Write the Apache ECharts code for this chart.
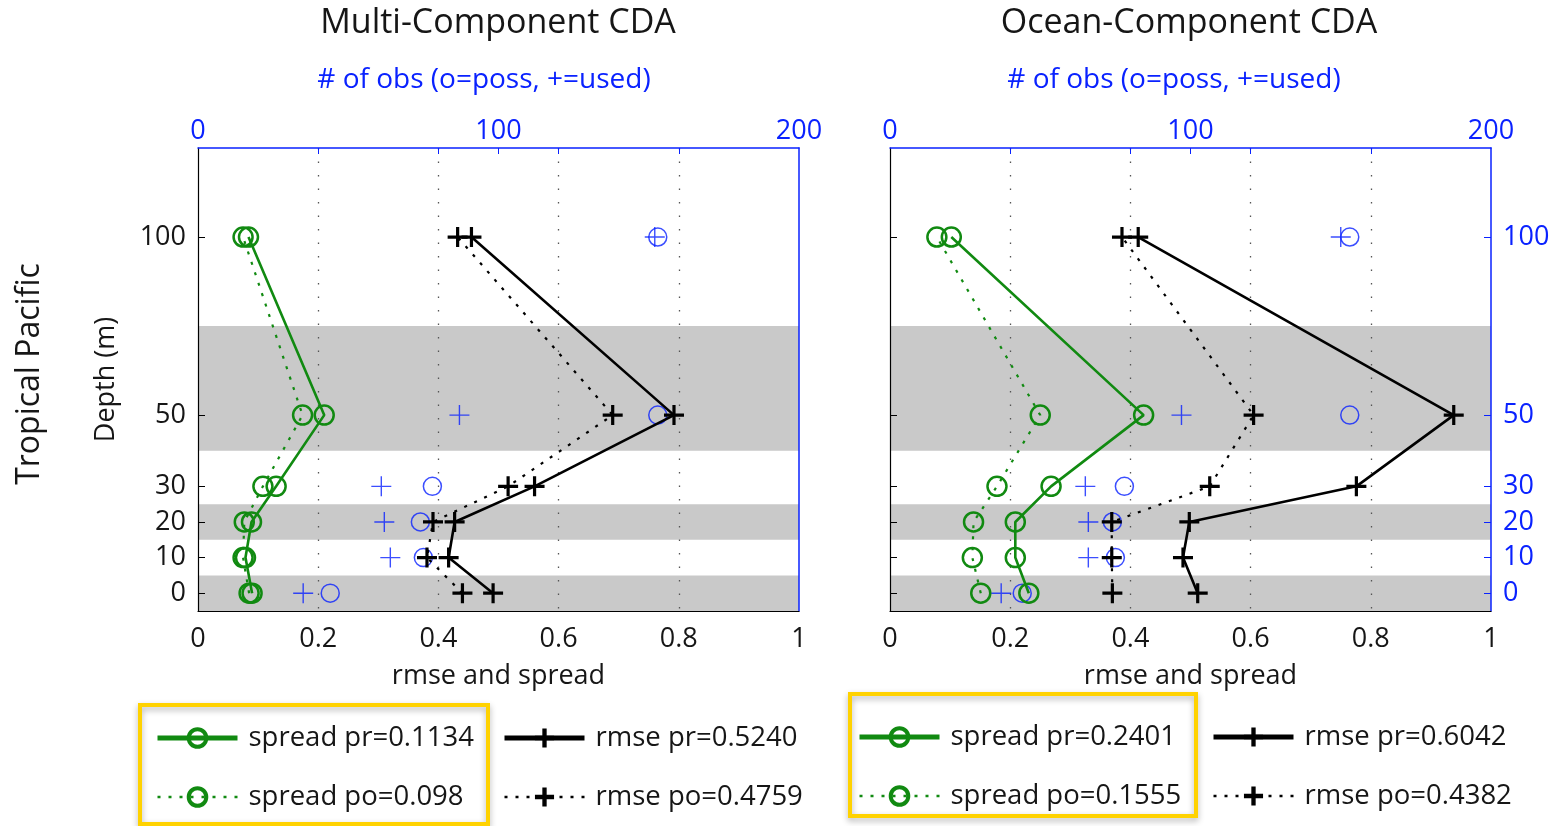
<!DOCTYPE html>
<html>
<head>
<meta charset="utf-8">
<title>Tropical Pacific CDA</title>
<script src="https://cdn.jsdelivr.net/npm/echarts@6/dist/echarts.min.js"></script>
<style>
  html, body { margin: 0; padding: 0; background: #ffffff; }
  #chart { width: 1553px; height: 826px; }
</style>
</head>
<body>
<div id="chart"></div>
<script>
// Depth levels (m), bottom to top
const depths = [0, 10, 20, 30, 50, 100];
const depthTicks = [0, 10, 20, 30, 50, 100];
const obsTicks = [40, 80, 100, 120, 160];
// Shaded depth layers [from, to]
const bands = [[-5, 5], [15, 25], [40, 75]];

// Multi-Component CDA
const multiSpreadPr = [0.090, 0.079, 0.089, 0.130, 0.210, 0.084];
const multiSpreadPo = [0.085, 0.075, 0.077, 0.108, 0.174, 0.075];
const multiRmsePr   = [0.491, 0.417, 0.427, 0.560, 0.792, 0.455];
const multiRmsePo   = [0.440, 0.381, 0.391, 0.516, 0.690, 0.432];
const multiObsPoss  = [44, 75, 74, 78, 153, 153];
const multiObsUsed  = [35, 64, 62, 61, 87, 152];
const multiLegend   = ['spread pr=0.1134', 'spread po=0.098', 'rmse pr=0.5240', 'rmse po=0.4759'];

// Ocean-Component CDA
const oceanSpreadPr = [0.231, 0.2085, 0.2085, 0.268, 0.422, 0.102];
const oceanSpreadPo = [0.151, 0.137, 0.139, 0.178, 0.250, 0.078];
const oceanRmsePr   = [0.512, 0.4875, 0.498, 0.776, 0.938, 0.413];
const oceanRmsePo   = [0.370, 0.369, 0.369, 0.532, 0.605, 0.386];
const oceanObsPoss  = [44, 75, 74, 78, 153, 153];
const oceanObsUsed  = [37, 66, 66, 65, 97, 150];
const oceanLegend   = ['spread pr=0.2401', 'spread po=0.1555', 'rmse pr=0.6042', 'rmse po=0.4382'];

const FONT = "'Open Sans', 'Noto Sans', sans-serif";
const GREEN = '#118a11';
const BLACK = '#000000';
const BLUE = '#0a22ff';
const TEXT = '#161616';
const BAND = '#c9c9c9';
const CLEAR = 'rgba(0,0,0,0)';
const PLUS_BOLD = 'path://M8.4,0H11.6V8.4H20V11.6H11.6V20H8.4V11.6H0V8.4H8.4Z';
const PLUS_THIN = 'path://M9.3,0H10.7V9.3H20V10.7H10.7V20H9.3V10.7H0V9.3H9.3Z';

const pairs = (vals) => vals.map((v, i) => [v, depths[i]]);

const GRID_TOP = 148, GRID_H = 463, GRID_W = 601;
const panels = [
  { left: 198, spreadPr: multiSpreadPr, spreadPo: multiSpreadPo, rmsePr: multiRmsePr, rmsePo: multiRmsePo,
    poss: multiObsPoss, used: multiObsUsed, legend: multiLegend },
  { left: 890, spreadPr: oceanSpreadPr, spreadPo: oceanSpreadPo, rmsePr: oceanRmsePr, rmsePo: oceanRmsePo,
    poss: oceanObsPoss, used: oceanObsUsed, legend: oceanLegend }
];

const grid = [], xAxis = [], yAxis = [], series = [];

panels.forEach((p, k) => {
  grid.push({ left: p.left, top: GRID_TOP, width: GRID_W, height: GRID_H, containLabel: false });
  const xb = xAxis.length, yl = yAxis.length;

  // bottom: rmse and spread
  xAxis.push({
    type: 'value', gridIndex: k, position: 'bottom', min: 0, max: 1, interval: 0.2,
    name: 'rmse and spread', nameLocation: 'middle', nameGap: 52,
    nameTextStyle: { fontFamily: FONT, fontSize: 27, color: TEXT },
    axisLine: { show: true, onZero: false, lineStyle: { color: BLACK, width: 1.2 } },
    axisTick: { show: false },
    axisLabel: { fontFamily: FONT, fontSize: 27, color: TEXT, margin: 15 },
    splitLine: { show: true, showMinLine: false, showMaxLine: false,
      lineStyle: { color: '#555555', width: 1.3, type: [1.5, 12] } }
  });
  // top: number of observations
  xAxis.push({
    type: 'value', gridIndex: k, position: 'top', min: 0, max: 200, interval: 100,
    axisLine: { show: true, onZero: false, lineStyle: { color: BLUE, width: 1.5 } },
    axisTick: { show: true, inside: true, length: 6, customValues: obsTicks, lineStyle: { color: BLUE } },
    axisLabel: { fontFamily: FONT, fontSize: 27, color: BLUE, margin: 3 },
    splitLine: { show: false }
  });
  // left depth axis
  yAxis.push({
    type: 'value', gridIndex: k, position: 'left', min: -5, max: 125,
    name: k === 0 ? 'Depth (m)' : '', nameLocation: 'middle', nameGap: 78,
    nameTextStyle: { fontFamily: FONT, fontSize: 27, color: TEXT },
    axisLine: { show: true, onZero: false, lineStyle: { color: BLACK, width: 1.2 } },
    axisTick: { show: true, inside: true, length: 7, customValues: depthTicks, lineStyle: { color: BLACK } },
    axisLabel: { show: k === 0, customValues: depthTicks, fontFamily: FONT, fontSize: 27, color: TEXT, margin: 12 },
    splitLine: { show: false }
  });
  // right depth axis
  yAxis.push({
    type: 'value', gridIndex: k, position: 'right', min: -5, max: 125,
    axisLine: { show: true, onZero: false, lineStyle: { color: BLUE, width: 1.5 } },
    axisTick: { show: k === 1, inside: true, length: 7, customValues: depthTicks, lineStyle: { color: BLUE } },
    axisLabel: { show: k === 1, customValues: depthTicks, fontFamily: FONT, fontSize: 27, color: BLUE, margin: 12 },
    splitLine: { show: false }
  });

  // shaded depth layers
  series.push({
    type: 'custom', xAxisIndex: xb, yAxisIndex: yl, z: -1, silent: true,
    encode: { y: [0, 1] },
    data: bands,
    renderItem: (params, api) => {
      const cs = params.coordSys;
      const yTop = api.coord([0, api.value(1)])[1];
      const yBot = api.coord([0, api.value(0)])[1];
      return { type: 'rect', shape: { x: cs.x, y: yTop, width: cs.width, height: yBot - yTop },
               style: { fill: BAND } };
    }
  });

  const lineSeries = (name, vals, color, solid, symbol, size, border) => ({
    type: 'line', name, xAxisIndex: xb, yAxisIndex: yl,
    data: pairs(vals), symbol, symbolSize: size, showAllSymbol: true, clip: false,
    lineStyle: { color, width: solid ? 2.6 : 2.2, type: solid ? 'solid' : [3, 8], cap: 'butt' },
    itemStyle: symbol === 'circle'
      ? { color: CLEAR, borderColor: color, borderWidth: border }
      : { color, borderColor: color, borderWidth: 0 },
    emphasis: { disabled: true }
  });

  series.push(lineSeries(p.legend[3], p.rmsePo, BLACK, false, PLUS_BOLD, 20));
  series.push(lineSeries(p.legend[2], p.rmsePr, BLACK, true, PLUS_BOLD, 20));
  series.push(lineSeries(p.legend[1], p.spreadPo, GREEN, false, 'circle', 19, 2.5));
  series.push(lineSeries(p.legend[0], p.spreadPr, GREEN, true, 'circle', 19, 2.5));

  // observation counts on the top axis
  series.push({
    type: 'scatter', name: 'obs poss ' + k, xAxisIndex: xb + 1, yAxisIndex: yl,
    data: pairs(p.poss), symbol: 'circle', symbolSize: 18,
    itemStyle: { color: CLEAR, borderColor: BLUE, borderWidth: 1.5 },
    emphasis: { disabled: true }
  });
  series.push({
    type: 'scatter', name: 'obs used ' + k, xAxisIndex: xb + 1, yAxisIndex: yl,
    data: pairs(p.used), symbol: PLUS_THIN, symbolSize: 20,
    itemStyle: { color: BLUE },
    emphasis: { disabled: true }
  });
});

const legendBase = {
  orient: 'vertical', padding: 0, itemWidth: 80, itemHeight: 22, itemGap: 31,
  selectedMode: false,
  textStyle: { fontFamily: FONT, fontSize: 27.5, color: TEXT, lineHeight: 28, padding: [0, 0, 0, 6] }
};
const legend = [];
[[155, 724, 347], [857, 723, 354]].forEach(([x0, y0, dx], k) => {
  const names = panels[k].legend;
  legend.push(Object.assign({}, legendBase, {
    left: x0, top: y0,
    data: [
      { name: names[0], lineStyle: { width: 5 }, itemStyle: { borderWidth: 4 } },
      { name: names[1], lineStyle: { width: 2.5 }, itemStyle: { borderWidth: 4 } }
    ]
  }));
  legend.push(Object.assign({}, legendBase, {
    left: x0 + dx, top: y0,
    data: [
      { name: names[2], lineStyle: { width: 5 }, itemStyle: { borderWidth: 1.5 } },
      { name: names[3], lineStyle: { width: 2.5 }, itemStyle: { borderWidth: 1.5 } }
    ]
  }));
});

const txt = (text, x, y, size, color, rotation) => ({
  type: 'text', x, y, rotation: rotation || 0, silent: true,
  style: { text, fill: color, font: `${size}px ${FONT}`, align: 'center', verticalAlign: 'middle' }
});
const box = (x, y, w, h) => ({
  type: 'rect', silent: true, z: 0,
  shape: { x, y, width: w, height: h },
  style: { fill: 'none', stroke: '#ffd200', lineWidth: 4,
           shadowBlur: 6, shadowOffsetY: 3, shadowColor: 'rgba(0,0,0,0.3)' }
});

const graphic = [
  txt('Multi-Component CDA', 498, 23, 34, TEXT),
  txt('# of obs (o=poss, +=used)', 484, 80, 28, BLUE),
  txt('Ocean-Component CDA', 1189, 23, 34, TEXT),
  txt('# of obs (o=poss, +=used)', 1174, 80, 28, BLUE),
  txt('Tropical Pacific', 30, 374, 32, TEXT, Math.PI / 2),
  box(140, 705, 348, 119),
  box(850, 694, 346, 122)
];

const chart = echarts.init(document.getElementById('chart'), null, { renderer: 'canvas' });
chart.setOption({
  animation: false,
  backgroundColor: '#ffffff',
  textStyle: { fontFamily: FONT },
  grid, xAxis, yAxis, series, legend, graphic,
  tooltip: { show: false }
});
</script>
</body>
</html>
